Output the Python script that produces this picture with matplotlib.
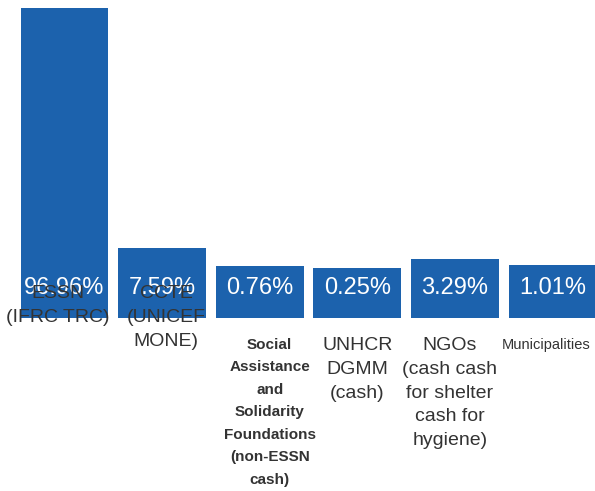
import matplotlib
matplotlib.use("Agg")
import matplotlib.pyplot as plt

categories = [
    "ESSN\n(IFRC TRC)",
    "CCTE\n(UNICEF\nMONE)",
    "Social\nAssistance\nand\nSolidarity\nFoundations\n(non-ESSN\ncash)",
    "UNHCR\nDGMM\n(cash)",
    "NGOs\n(cash cash\nfor shelter\ncash for\nhygiene)",
    "Municipalities",
]
values = [96.96, 7.59, 0.76, 0.25, 3.29, 1.01]
value_labels = ["96.96%", "7.59%", "0.76%", "0.25%", "3.29%", "1.01%"]

BLUE = "#1c62ad"
TEXT = "#333333"
FONT = ["Liberation Sans", "DejaVu Sans"]

W, H = 595, 491
fig = plt.figure(figsize=(W / 100, H / 100), dpi=100)
ax = fig.add_axes([0, 0, 1, 1])

# pixel layout helpers
K = 2.685          # px per data unit
BASE_PX = 318      # baseline pixel row (from top)
BOTTOM = -18.55    # bars start below zero (min visible height)
X0, DX = 64.5, 97.6

def py(p):
    return BOTTOM + (BASE_PX - p) / K

def px(p):
    return (p - X0) / DX

x = list(range(len(values)))
ax.bar(x, [v - BOTTOM for v in values], bottom=BOTTOM, width=0.9, color=BLUE)
ax.set_xlim(px(0), px(W))
ax.set_ylim(py(H), py(0))
ax.axis("off")

for xi, lab in zip(x, value_labels):
    ax.text(xi, py(288.5), lab, ha="center", va="center", color="white",
            fontsize=17, family=FONT)

label_dx = [-7, 4, 10, 0, -5, -6]
label_top = [285, 285, 338, 337, 337, 338]
label_size = [14, 14, 11, 14, 14, 10.5]
label_weight = ["normal", "normal", "bold", "normal", "normal", "normal"]
label_ls = [1.52, 1.52, 1.77, 1.52, 1.52, 1.2]
for i, lab in enumerate(categories):
    ax.text(px(X0 + DX * i + label_dx[i]), py(label_top[i]), lab,
            ha="center", va="top", color=TEXT, fontsize=label_size[i],
            fontweight=label_weight[i], linespacing=label_ls[i],
            family=FONT, multialignment="center")

fig.savefig("out.png", dpi=100)
